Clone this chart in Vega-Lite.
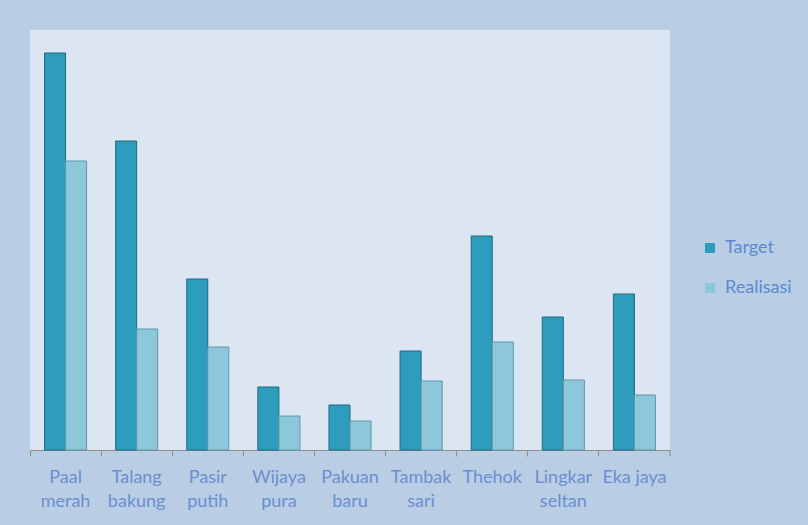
{
  "$schema": "https://vega.github.io/schema/vega-lite/v6.json",
  "width": 640,
  "height": 420,
  "autosize": {"type": "none"},
  "padding": {"left": 30, "top": 30, "right": 138, "bottom": 75},
  "background": "#b9cde5",
  "config": {"view": {"fill": "#dce6f2", "stroke": null}, "font": "Lato"},
  "data": {
    "values": [
      {"kelurahan": "Paal merah", "seri": "Target", "nilai": 397},
      {"kelurahan": "Paal merah", "seri": "Realisasi", "nilai": 289},
      {"kelurahan": "Talang bakung", "seri": "Target", "nilai": 309},
      {"kelurahan": "Talang bakung", "seri": "Realisasi", "nilai": 121},
      {"kelurahan": "Pasir putih", "seri": "Target", "nilai": 171},
      {"kelurahan": "Pasir putih", "seri": "Realisasi", "nilai": 103},
      {"kelurahan": "Wijaya pura", "seri": "Target", "nilai": 63},
      {"kelurahan": "Wijaya pura", "seri": "Realisasi", "nilai": 34},
      {"kelurahan": "Pakuan baru", "seri": "Target", "nilai": 45},
      {"kelurahan": "Pakuan baru", "seri": "Realisasi", "nilai": 29},
      {"kelurahan": "Tambak sari", "seri": "Target", "nilai": 99},
      {"kelurahan": "Tambak sari", "seri": "Realisasi", "nilai": 69},
      {"kelurahan": "Thehok", "seri": "Target", "nilai": 214},
      {"kelurahan": "Thehok", "seri": "Realisasi", "nilai": 108},
      {"kelurahan": "Lingkar seltan", "seri": "Target", "nilai": 133},
      {"kelurahan": "Lingkar seltan", "seri": "Realisasi", "nilai": 70},
      {"kelurahan": "Eka jaya", "seri": "Target", "nilai": 156},
      {"kelurahan": "Eka jaya", "seri": "Realisasi", "nilai": 55}
    ]
  },
  "encoding": {
    "x": {
      "field": "kelurahan",
      "type": "nominal",
      "sort": null,
      "scale": {"paddingInner": 0, "paddingOuter": 0},
      "axis": {
        "title": null,
        "labelAngle": 0,
        "bandPosition": 0,
        "domainColor": "#8c8c8c",
        "tickColor": "#8c8c8c",
        "tickSize": 6,
        "labelColor": "#6a8fd0",
        "labelFontSize": 18,
        "labelPadding": 12,
        "labelLineHeight": 24,
        "labelBaseline": "top",
        "labelOverlap": false,
        "labelBound": false,
        "labelExpr": "datum.value == 'Eka jaya' ? datum.value : split(datum.value, ' ')"
      }
    },
    "y": {
      "field": "nilai",
      "type": "quantitative",
      "scale": {"domain": [0, 420], "nice": false},
      "axis": null
    }
  },
  "layer": [
    {
      "mark": {"type": "bar", "strokeWidth": 1},
      "encoding": {
        "xOffset": {
          "field": "seri",
          "type": "nominal",
          "sort": ["Target", "Realisasi"],
          "scale": {"paddingInner": 0, "paddingOuter": 0.69}
        },
        "color": {
          "field": "seri",
          "type": "nominal",
          "sort": ["Target", "Realisasi"],
          "scale": {"domain": ["Target", "Realisasi"], "range": ["#2e9cbd", "#8cc7da"]},
          "legend": {
            "title": null,
            "orient": "none",
            "legendX": 671,
            "legendY": 209,
            "padding": 0,
            "symbolType": "square",
            "symbolSize": 100,
            "symbolStrokeWidth": 0,
            "labelFontSize": 18,
            "labelColor": "#5b8ad0",
            "rowPadding": 22,
            "labelOffset": 6
          }
        },
        "stroke": {
          "field": "seri",
          "type": "nominal",
          "scale": {"domain": ["Target", "Realisasi"], "range": ["#1d6a80", "#5f98ab"]},
          "legend": null
        }
      }
    },
    {
      "data": {"values": [{"kelurahan": "Eka jaya", "bawah": -6, "atas": 0}]},
      "mark": {"type": "rule", "color": "#8c8c8c", "strokeWidth": 1, "clip": false},
      "encoding": {
        "x": {"field": "kelurahan", "type": "nominal", "bandPosition": 1},
        "y": {"field": "atas", "type": "quantitative"},
        "y2": {"field": "bawah"}
      }
    }
  ]
}
